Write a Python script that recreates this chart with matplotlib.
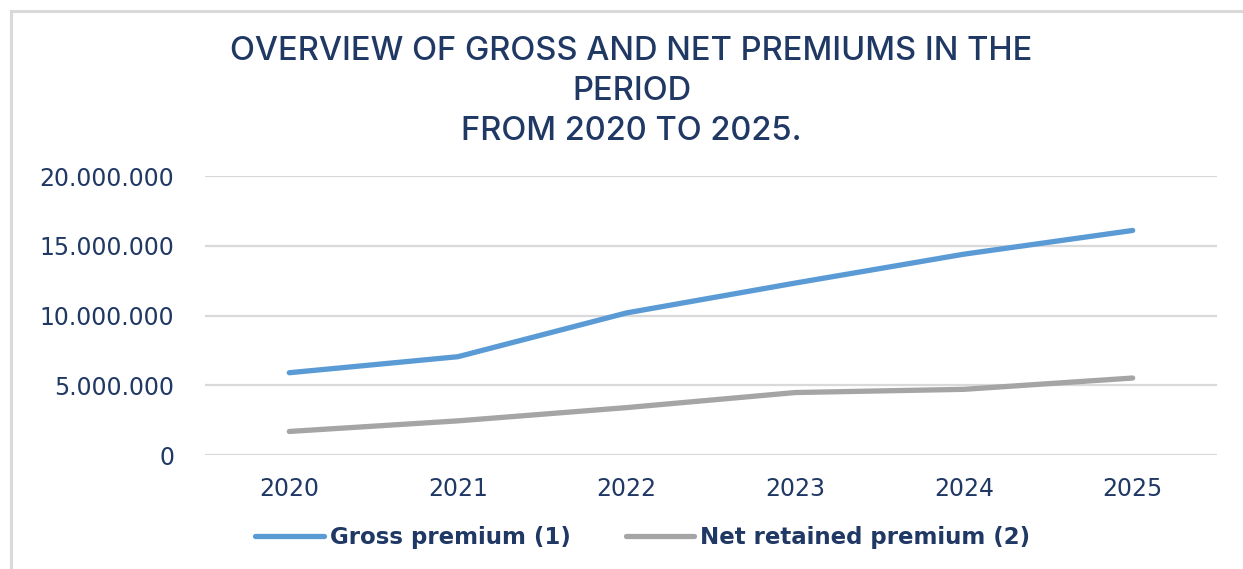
import matplotlib
matplotlib.use("Agg")
import matplotlib.pyplot as plt
from matplotlib.lines import Line2D
from matplotlib.ticker import FuncFormatter

years = ["2020", "2021", "2022", "2023", "2024", "2025"]
gross_premium = [5900000, 7050000, 10190000, 12330000, 14400000, 16100000]
net_premium = [1690000, 2450000, 3400000, 4480000, 4710000, 5520000]
series_names = ["Gross premium (1)", "Net retained premium (2)"]
title = "OVERVIEW OF GROSS AND NET PREMIUMS IN THE\nPERIOD\nFROM 2020 TO 2025."

navy = "#203864"
blue = "#5B9BD5"
grey = "#A5A5A5"
grid_col = "#D9D9D9"

fig = plt.figure(figsize=(12.43, 5.69), dpi=100)
ax = fig.add_axes([0.1649, 0.2003, 0.8142, 0.4903])

x = list(range(len(years)))
ax.plot(x, gross_premium, color=blue, lw=3.8, solid_capstyle="round",
        solid_joinstyle="round", label=series_names[0], zorder=3)
ax.plot(x, net_premium, color=grey, lw=3.8, solid_capstyle="round",
        solid_joinstyle="round", label=series_names[1], zorder=3)

ax.set_xlim(-0.5, len(years) - 0.5)
ax.set_ylim(0, 20000000)
ax.set_yticks([0, 5000000, 10000000, 15000000, 20000000])
ax.yaxis.set_major_formatter(FuncFormatter(lambda v, p: f"{int(v):,}".replace(",", ".")))
ax.set_xticks(x)
ax.set_xticklabels(years)

ax.grid(axis="y", color=grid_col, lw=1.6)
ax.set_axisbelow(True)
for s in ax.spines.values():
    s.set_visible(False)
ax.tick_params(axis="both", length=0, labelcolor=navy, labelsize=17)
ax.tick_params(axis="y", pad=22)
ax.tick_params(axis="x", pad=16)

fig.text(0.508, 0.937, title, ha="center", va="top", color=navy,
         fontsize=23.5, fontfamily="Inter", fontweight="medium", linespacing=1.38)

handles = [Line2D([], [], color=blue, lw=3.8, solid_capstyle="round"),
           Line2D([], [], color=grey, lw=3.8, solid_capstyle="round")]
leg = fig.legend(handles, series_names, loc="center", bbox_to_anchor=(0.517, 0.055),
                 ncol=2, frameon=False, handlelength=3.0, handletextpad=0.25,
                 columnspacing=2.4, prop={"size": 16.5, "weight": "bold"})
for t in leg.get_texts():
    t.set_color(navy)

# chart border (left and top edges visible)
fig.add_artist(Line2D([11 / 1243, 11 / 1243], [0, 1 - 11 / 569], color=grid_col, lw=2.2,
                      transform=fig.transFigure))
fig.add_artist(Line2D([11 / 1243, 1], [1 - 11 / 569, 1 - 11 / 569], color=grid_col, lw=2.2,
                      transform=fig.transFigure))

fig.savefig("out.png", dpi=100)
